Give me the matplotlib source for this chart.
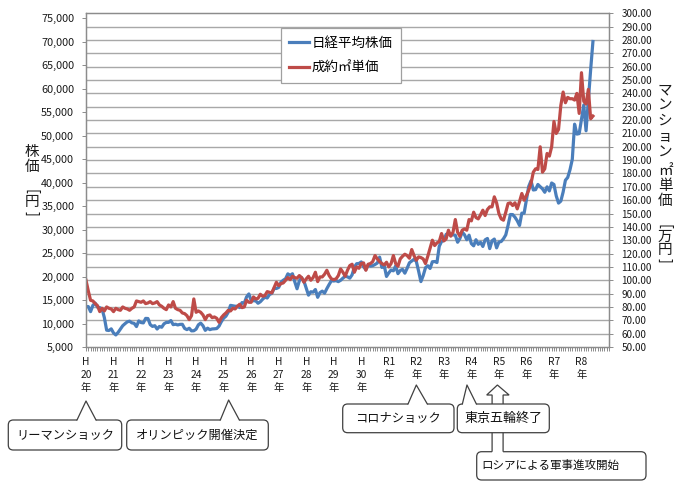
import matplotlib.pyplot as plt
import matplotlib.patches as mpatches
import matplotlib.transforms as mtransforms
from matplotlib.lines import Line2D
from matplotlib import ticker
import numpy as np

plt.rcParams["font.family"] = ["Noto Sans CJK JP", "DejaVu Sans"]

W, H, DPI = 680, 483, 100

# monthly, Jan 2008 (H20) onwards
nikkei = [
    13592, 13603, 12525, 13849, 14338, 13481, 13376, 13072, 11259, 8576, 8512, 8859,
    7994, 7568, 8109, 8828, 9522, 9958, 10356, 10492, 10133, 10034, 9345, 10546,
    10198, 10126, 11089, 11057, 9768, 9382, 9537, 8824, 9369, 9202, 9937, 10228,
    10237, 10624, 9755, 9849, 9693, 9816, 9833, 8955, 8700, 8988, 8434, 8455,
    8802, 9723, 10083, 9520, 8542, 9006, 8695, 8839, 8870, 8928, 9446, 10395,
    11138, 11559, 12397, 13860, 13774, 13677, 13668, 13388, 14455, 14327, 15661, 16291,
    14914, 14841, 14827, 14304, 14632, 15162, 15620, 15424, 16173, 16413, 17459, 17450,
    17674, 18797, 19206, 19520, 20563, 20235, 20585, 18890, 17388, 19083, 19747, 19033,
    17518, 16026, 16758, 16666, 17234, 15575, 16569, 16887, 16449, 17425, 18308, 19114,
    19041, 19118, 18909, 19196, 19650, 20033, 19925, 19646, 20356, 22011, 22724, 22764,
    23098, 22068, 21454, 22467, 22201, 22304, 22553, 22865, 24120, 21920, 22351, 20014,
    20773, 21385, 21205, 22258, 20601, 21275, 21521, 20704, 21755, 22927, 23293, 23656,
    23205, 21142, 18917, 20193, 21877, 22288, 21710, 23139, 23185, 22977, 26433, 27444,
    27663, 28966, 29178, 28812, 28860, 28791, 27283, 28089, 29452, 28892, 27821, 28791,
    27001, 26526, 27821, 26847, 27279, 26393, 27801, 28091, 25937, 27587, 27968, 26094,
    27327, 27445, 28041, 28856, 30887, 33189, 33172, 32619, 31857, 30858, 33486, 33464,
    36286, 39166, 40369, 38405, 38487, 39583, 39101, 38647, 37919, 39081, 38208, 39894,
    39572, 37155, 35617, 36045, 37965, 40487, 41069, 42718, 44932, 52411, 50300, 50400,
    53500, 56500, 51000, 57500, 64000, 70000,
]

price_sqm = [
    100, 92, 85, 84.5, 82.5, 81, 76.5, 79, 77, 80, 79, 78.5,
    76.5, 79, 78, 77.5, 80, 79, 78.5, 77.5, 79, 80, 84.5, 84,
    83.5, 84.5, 82.5, 83, 84, 82.5, 83, 84, 81.5, 80.5, 79, 78,
    81.5, 80, 84, 79, 78, 77.5, 75.5, 75, 73.5, 70.5, 73.5, 86,
    76, 77, 76, 74, 70.5, 73.5, 74, 72, 72.5, 71.5, 68.5, 72,
    74, 75.5, 77.5, 77, 79, 78.5, 80.5, 82, 79.5, 80, 85, 83.5,
    83.5, 87.5, 86, 86.5, 89.5, 88, 88.5, 91.5, 91, 90.5, 94.5, 98.5,
    96, 97.5, 98, 100, 102, 100.5, 103, 102, 101.5, 103.5, 102, 98.5,
    101, 103, 100, 102, 106, 99, 102.5, 102.5, 104.5, 107.5, 103.5, 101,
    100.5, 101, 103.5, 108.5, 106, 103, 107.5, 111, 112, 106, 110, 109,
    112.5, 113, 107.5, 112, 112.5, 114, 118.5, 116, 114, 112.5, 111.5, 113.5,
    110, 112.5, 118.5, 112.5, 110.5, 116, 118, 119.5, 118.5, 116.5, 123, 118.5,
    115, 117.5, 117, 116, 112.5, 118, 124, 130, 126, 128, 129, 135,
    129.5, 131, 137.5, 133, 136, 145.5, 136, 133, 137.5, 138.5, 137.5, 145.5,
    144.5, 151, 147, 146, 149, 152.5, 148.5, 153, 155, 155, 162.5, 158,
    150, 146, 145, 151, 157.5, 158, 156, 158, 153.5, 159, 165, 160,
    163.5, 167.5, 172.5, 181, 183.5, 183, 200, 181, 183.5, 195, 193, 200,
    219, 210, 213, 231, 241, 233, 237, 236, 236, 235, 240, 225,
    255.5, 234, 232, 243, 221, 223,
]

year_labels = ["H\n%d\n年" % y for y in range(20, 31)] + ["R%d\n年" % y for y in range(1, 9)]
series_names = ["日経平均株価", "成約㎡単価"]
n_categories = 229

# callouts: text, year index on the axis it points at
events = ["リーマンショック", "オリンピック開催決定", "コロナショック", "東京五輪終了", "ロシアによる軍事進攻開始"]
event_years = [0, 5, 12, 14, 15]

fig = plt.figure(figsize=(W / DPI, H / DPI), dpi=DPI)
# pixel coordinates, origin top-left
T = mtransforms.Affine2D().scale(1, -1).translate(0, H).scale(1 / DPI) + fig.dpi_scale_trans

ax = fig.add_axes([86 / W, 1 - 347 / H, 523 / W, (347 - 13.3) / H])
ax2 = ax.twinx()

months = np.arange(len(nikkei))
grey = "#8c8c8c"
ax.set_xlim(0, n_categories - 1)
ax.set_ylim(5000, 76000)
ax2.set_ylim(50, 300)

# gridlines follow the right-hand axis
for r in range(60, 300, 10):
    ax.axhline(5000 + (r - 50) * 71000 / 250, color="#a8a8a8", lw=1.0, zorder=0.5)

ax.plot(months, nikkei, color="#4a7ebb", lw=2.3, solid_joinstyle="round", zorder=2)
ax2.plot(np.arange(len(price_sqm)), price_sqm, color="#be4b48", lw=2.3, solid_joinstyle="round", zorder=2)

ax.set_yticks(np.arange(5000, 75001, 5000))
ax.yaxis.set_major_formatter(ticker.FuncFormatter(lambda v, p: "{:,.0f}".format(v)))
ax2.set_yticks(np.arange(50, 301, 10))
ax2.yaxis.set_major_formatter(ticker.FuncFormatter(lambda v, p: "{:.2f}".format(v)))

ax.set_xticks(np.arange(0, 217, 12))
ax.set_xticklabels(year_labels, fontsize=7.4, linespacing=1.38)
ax.set_xticks(np.arange(0, n_categories), minor=True)

ax.tick_params(axis="x", which="both", direction="out", length=3, width=0.7, color=grey, pad=4, labelcolor="#1a1a1a")
ax.tick_params(axis="y", direction="out", length=3, width=0.7, color=grey, pad=5.5, labelsize=7.8, labelcolor="#1a1a1a")
ax2.tick_params(axis="y", direction="out", length=3, width=0.7, color=grey, pad=6, labelsize=7.2, labelcolor="#1a1a1a")
for a in (ax, ax2):
    for s in a.spines.values():
        s.set_color(grey)
        s.set_linewidth(0.9)

handles = [Line2D([], [], color="#4a7ebb", lw=2.3), Line2D([], [], color="#be4b48", lw=2.3)]
leg = ax2.legend(handles, series_names, loc="upper left", bbox_to_anchor=(281, 28), bbox_transform=T,
                 fontsize=9.7, frameon=True, fancybox=False, framealpha=1, edgecolor="#a0a0a0",
                 handlelength=1.5, handletextpad=0.2, labelspacing=0.8, borderpad=0.6, borderaxespad=0)
leg.get_frame().set_linewidth(0.9)


def stacked(x, items, size=10.5):
    for ch, y in items:
        rot = -90 if ch in "[]" else 0
        fig.text(x, y, ch, transform=T, ha="center", va="center", rotation=rot, fontsize=size, color="#1a1a1a")


stacked(32, [("株", 152), ("価", 167), ("[", 191), ("円", 202), ("]", 213)])
stacked(665, [("マ", 90), ("ン", 105), ("シ", 121), ("ョ", 137), ("ン", 152), ("㎡", 171), ("単", 186),
              ("価", 201), ("[", 226), ("万", 237), ("円", 250), ("]", 260)])


def label_x(k):
    return ax.transData.transform((k * 12, 0))[0]


edge = "#404040"


def callout(text, box, apex, base, size, z, ha="center"):
    x0, y0, x1, y1 = box
    fig.add_artist(mpatches.FancyBboxPatch((x0, y0), x1 - x0, y1 - y0, boxstyle="round,pad=0,rounding_size=5",
                                           transform=T, fc="white", ec=edge, lw=0.9, zorder=z))
    if apex is not None:
        bl, br = base
        fig.add_artist(mpatches.Polygon([(bl, y0 + 1.2), (bl, y0), apex, (br, y0), (br, y0 + 1.2)],
                                        closed=True, transform=T, fc="white", ec="none", zorder=z + 0.1))
        fig.add_artist(Line2D([bl, apex[0], br], [y0, apex[1], y0], transform=T, color=edge, lw=0.9, zorder=z + 0.2))
    tx = (x0 + x1) / 2 if ha == "center" else x0 + 5
    fig.text(tx, (y0 + y1) / 2, text, transform=T, ha=ha, va="center", fontsize=size, color="#111111", zorder=z + 0.3)


# リーマンショック / オリンピック開催決定
ax0 = label_x(event_years[0])
callout(events[0], (8.3, 420, 121.7, 450), (ax0, 401), (ax0 - 9, ax0 + 10), 8.8, 5)
ax1 = label_x(event_years[1]) + 5
callout(events[1], (126.7, 420, 268.3, 450), (ax1, 400), (ax1 - 8.3, ax1 + 10.7), 8.8, 5)
# コロナショック
ax3 = label_x(event_years[2])
callout(events[2], (342.7, 404, 454, 432.7), (ax3, 385), (ax3 - 8.3, ax3 + 11), 8.8, 5)

# ロシア box with block arrow up to R5
callout(events[4], (476.7, 451.7, 646, 480), None, None, 8.3, 5, ha="left")
xa = label_x(event_years[4]) - 1.5
arrow_pts = [(xa - 5.3, 451.7), (xa - 5.3, 395), (xa - 10.7, 395), (xa, 385), (xa + 11.7, 395),
             (xa + 5.7, 395), (xa + 5.7, 451.7)]
fig.add_artist(mpatches.Polygon(arrow_pts + [(xa + 5.7, 453), (xa - 5.3, 453)], closed=True, transform=T,
                                fc="white", ec="none", zorder=6))
fig.add_artist(mpatches.Polygon(arrow_pts, closed=False, transform=T, fill=False, ec=edge, lw=0.9, zorder=6.1))

# 東京五輪終了 on top of the arrow shaft
ax4 = label_x(event_years[3]) - 4.4
callout(events[3], (457.3, 404, 549.3, 432.7), (ax4, 385), (ax4 - 4.6, ax4 + 9.4), 9.4, 7)

fig.savefig("out.png", dpi=DPI)
